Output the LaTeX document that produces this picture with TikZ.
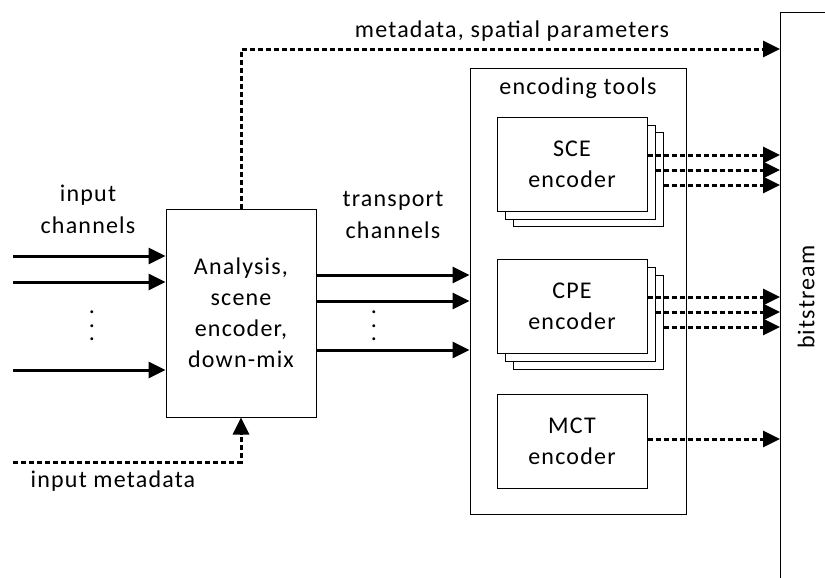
\documentclass[tikz,border=0pt]{standalone}
\usepackage{fontspec}
\setmainfont[LetterSpace=5]{Carlito}
\usetikzlibrary{positioning,arrows.meta}

\begin{document}
\begin{tikzpicture}[x=0.5pt, y=-0.5pt, >={Triangle[length=8.5pt,width=8pt]},
	every node/.style={font=\fontsize{12}{15.5}\selectfont, align=center},
	box/.style={draw, line width=0.5pt, fill=white, inner sep=0pt},
	coder/.style={box, minimum width=75pt, minimum height=47pt},
	sig/.style={->, line width=1.5pt},
	meta/.style={->, line width=1.5pt, dash pattern=on 2.5pt off 1.5pt},
	dotcol/.style={font=\fontsize{12}{6.75}\selectfont, inner sep=0pt}]
	
	\useasboundingbox (0,0) rectangle (825,578);
	\clip (0,0) rectangle (825,578);
	
	% analysis block
	\node[box, minimum width=75pt, minimum height=104pt] (ana) at (241,313) {Analysis,\\scene\\encoder,\\down-mix};
	
	% encoding tools
	\node[box, minimum width=108pt, minimum height=223pt] (tools) at (578,291) {};
	\node (toolslbl) at (578,88) {encoding tools};
	
	% SCE stack
	\node[coder] (sce3) at (588,179) {};
	\node[coder] (sce2) at (580,172) {};
	\node[coder] (sce) at (572,164) {SCE\\encoder};
	
	% CPE stack
	\node[coder] (cpe3) at (588,322) {};
	\node[coder] (cpe2) at (580,314) {};
	\node[coder] (cpe) at (572,306) {CPE\\encoder};
	
	% MCT
	\node[coder] (mct) at (572,441) {MCT\\encoder};
	
	% bitstream
	\node[box, minimum width=40pt, minimum height=300pt, anchor=north west] (bits) at (780,12) {};
	\node[rotate=90] (bitslbl) at (806,297) {bitstream};
	
	% inputs
	\coordinate (in1) at (13,256);
	\coordinate (in2) at (13,282);
	\coordinate (in3) at (13,370);
	\coordinate (inmd) at (13,462);
	\draw[sig] (in1) -- (in1 -| ana.west);
	\draw[sig] (in2) -- (in2 -| ana.west);
	\draw[sig] (in3) -- (in3 -| ana.west);
	\draw[meta] (inmd) -| (ana.south);
	
	% transport channels
	\draw[sig] (ana.east |- 0,275) -- (tools.west |- 0,275);
	\draw[sig] (ana.east |- 0,301) -- (tools.west |- 0,301);
	\draw[sig] (ana.east |- 0,350) -- (tools.west |- 0,350);
	
	% metadata to bitstream
	\draw[meta] (ana.north) |- (bits.west |- 0,49);
	
	% encoder outputs
	\draw[meta] (sce.east |- 0,155) -- (bits.west |- 0,155);
	\draw[meta] (sce2.east |- 0,170) -- (bits.west |- 0,170);
	\draw[meta] (sce3.east |- 0,185) -- (bits.west |- 0,185);
	\draw[meta] (cpe.east |- 0,297) -- (bits.west |- 0,297);
	\draw[meta] (cpe2.east |- 0,312) -- (bits.west |- 0,312);
	\draw[meta] (cpe3.east |- 0,327) -- (bits.west |- 0,327);
	\draw[meta] (mct.east |- 0,439) -- (bits.west |- 0,439);
	
	% labels
	\node[font=\fontsize{12}{16}\selectfont] (inlbl) at (88,209) {input\\channels};
	\node[font=\fontsize{12}{16}\selectfont] (trlbl) at (393,215) {transport\\channels};
	\node (mdlbl) at (512,31) {metadata, spatial parameters};
	\node (inmdlbl) at (113,481) {input metadata};
	\node[dotcol] (indots) at (92,326) {.\\.\\.};
	\node[dotcol] (trdots) at (374,326) {.\\.\\.};
	
\end{tikzpicture}
\end{document}
